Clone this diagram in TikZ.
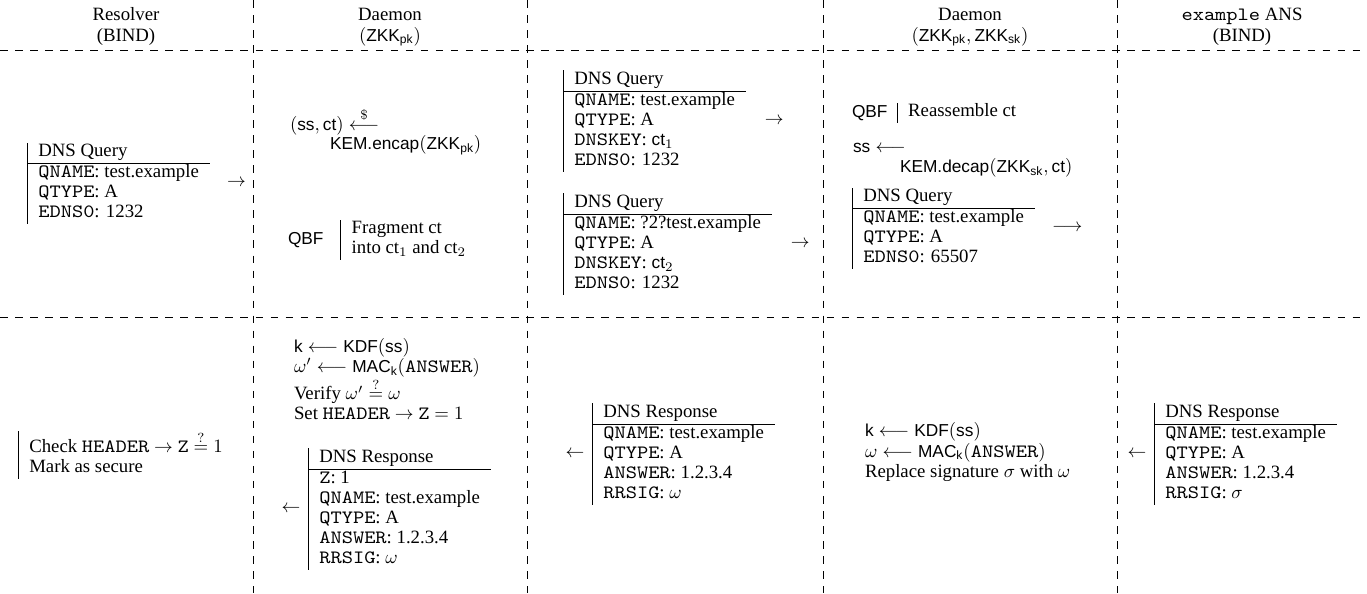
\documentclass[tikz,border=0pt]{standalone}
\usepackage{amsmath,amssymb}
\usepackage[no-math]{fontspec}
\setmainfont{Liberation Serif}
\setsansfont{Liberation Sans}[Scale=0.92]
\setmonofont{lmmono10-regular.otf}[FakeStretch=1.14]
\usetikzlibrary{positioning}
\renewcommand{\arraystretch}{0.89}
\newcommand{\sff}[1]{\textsf{#1}}
\newcommand{\dnsbox}[2]{\begin{tabular}{|l}#1\\\hline #2\end{tabular}}
\newcommand{\barbox}[1]{\begin{tabular}{|l}#1\end{tabular}}
\newcommand{\txtlines}[1]{\begin{tabular}{@{}l@{}}#1\end{tabular}}
\newcommand{\hdr}[2]{\begin{tabular}{@{}c@{}}#1\\#2\end{tabular}}

\begin{document}
\begin{tikzpicture}[x=0.0187cm,y=-0.0187cm,
  grid/.style={dash pattern=on 4pt off 4pt, line width=0.4pt},
  rec/.style={anchor=west},
  txt/.style={anchor=mid west}]
\tikzstyle{every node}=[inner sep=0,outer sep=0]
\useasboundingbox (0,0) rectangle (1367,593);

% table lines
\foreach \y in {50,317} \draw[grid] (0,\y) -- (1367,\y);
\foreach \x in {253,527,823,1117} \draw[grid] (\x,0) -- (\x,593);

% header
\node (h1) at (126,27) {\hdr{Resolver}{(BIND)}};
\node (h2) at (390,27) {\hdr{Daemon}{$(\sff{ZKK}_{\sff{pk}})$}};
\node (h4) at (970,27) {\hdr{Daemon}{$(\sff{ZKK}_{\sff{pk}}, \sff{ZKK}_{\sff{sk}})$}};
\node (h5) at (1242,27) {\hdr{\texttt{example} ANS}{(BIND)}};

% queries
\node[rec] (q0) at (27,183) {\dnsbox{DNS Query}{\texttt{QNAME}: test.example\\\texttt{QTYPE}: A\\\texttt{EDNS0}: 1232}};
\node[right=9pt of q0] (a0) {$\rightarrow$};

\node[txt] (enc1) at (290,126) {$(\sff{ss}, \sff{ct}) \overset{\$}{\longleftarrow}$};
\node[txt] (enc2) at (330,145) {$\sff{KEM.encap}(\sff{ZKK}_{\sff{pk}})$};
\node[txt] (qbf1) at (288,240) {\sff{QBF}};
\node[rec,right=9pt of qbf1] (frag) {\barbox{Fragment ct\\into ct$_1$ and ct$_2$}};

\node[rec] (q1) at (563,121) {\dnsbox{DNS Query}{\texttt{QNAME}: test.example\\\texttt{QTYPE}: A\\\texttt{DNSKEY}: $\sff{ct}_1$\\\texttt{EDNS0}: 1232}};
\node[right=10pt of q1] (a1) {$\rightarrow$};
\node[rec] (q2) at (563,244) {\dnsbox{DNS Query}{\texttt{QNAME}: ?2?test.example\\\texttt{QTYPE}: A\\\texttt{DNSKEY}: $\sff{ct}_2$\\\texttt{EDNS0}: 1232}};
\node[right=10pt of q2] (a2) {$\rightarrow$};

\node[txt] (qbf2) at (852,113) {\sff{QBF}};
\node[rec,right=5pt of qbf2] (reas) {\barbox{Reassemble ct}};
\node[txt] (dec1) at (853,148) {$\sff{ss} \longleftarrow$};
\node[txt] (dec2) at (900,168) {$\sff{KEM.decap}(\sff{ZKK}_{\sff{sk}}, \sff{ct})$};
\node[rec] (q3) at (852,228) {\dnsbox{DNS Query}{\texttt{QNAME}: test.example\\\texttt{QTYPE}: A\\\texttt{EDNS0}: 65507}};
\node[right=9pt of q3] (a3) {$\longrightarrow$};

% responses
\node[rec] (chk) at (18,455) {\barbox{Check \texttt{HEADER} $\rightarrow$ \texttt{Z} $\stackrel{?}{=} 1$\\Mark as secure}};

\node[anchor=west] (ver) at (294,382) {\txtlines{$\sff{k} \longleftarrow \sff{KDF}(\sff{ss})$\\$\omega' \longleftarrow \sff{MAC}_{\sff{k}}(\texttt{ANSWER})$\\Verify $\omega' \stackrel{?}{=} \omega$\\Set \texttt{HEADER} $\rightarrow$ \texttt{Z} $= 1$}};
\node[rec] (r1) at (308,509) {\dnsbox{DNS Response}{\texttt{Z}: 1\\\texttt{QNAME}: test.example\\\texttt{QTYPE}: A\\\texttt{ANSWER}: 1.2.3.4\\\texttt{RRSIG}: $\omega$}};
\node[left=4pt of r1] (b1) {$\leftarrow$};

\node[rec] (r2) at (592,454) {\dnsbox{DNS Response}{\texttt{QNAME}: test.example\\\texttt{QTYPE}: A\\\texttt{ANSWER}: 1.2.3.4\\\texttt{RRSIG}: $\omega$}};
\node[left=4pt of r2] (b2) {$\leftarrow$};

\node[anchor=west] (sig) at (865,453) {\txtlines{$\sff{k} \longleftarrow \sff{KDF}(\sff{ss})$\\$\omega \longleftarrow \sff{MAC}_{\sff{k}}(\texttt{ANSWER})$\\Replace signature $\sigma$ with $\omega$}};

\node[rec] (r3) at (1154,454) {\dnsbox{DNS Response}{\texttt{QNAME}: test.example\\\texttt{QTYPE}: A\\\texttt{ANSWER}: 1.2.3.4\\\texttt{RRSIG}: $\sigma$}};
\node[left=4pt of r3] (b3) {$\leftarrow$};

\end{tikzpicture}
\end{document}
